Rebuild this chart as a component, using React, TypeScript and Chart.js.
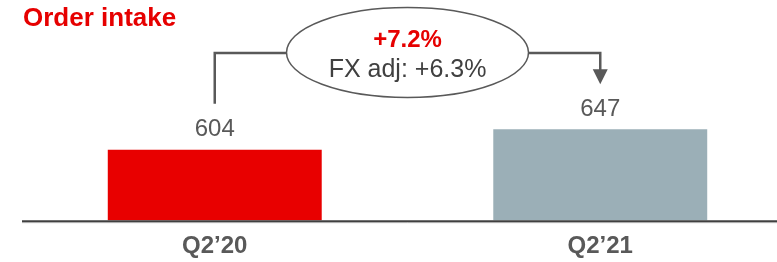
import React, { useEffect, useRef } from "react";
import { Chart, registerables } from "chart.js";

Chart.register(...registerables);

const categories = ["Q2’20", "Q2’21"];
const orderIntake = [604, 647];
const barColors = ["#E80000", "#9BAFB7"];
const changeMain = "+7.2%";
const changeFx = "FX adj: +6.3%";
const titleText = "Order intake";

const FONT = "'Liberation Sans', Arial, Helvetica, sans-serif";

const overlayPlugin = {
  id: "overlay",
  afterDatasetsDraw(chart: any) {
    const ctx = chart.ctx as CanvasRenderingContext2D;
    const meta = chart.getDatasetMeta(0);
    const bars = meta.data as any[];
    const area = chart.chartArea;
    ctx.save();

    // axis line
    ctx.strokeStyle = "#C8C8C8";
    ctx.lineWidth = 1;
    ctx.beginPath();
    ctx.moveTo(area.left, area.bottom + 2.5);
    ctx.lineTo(chart.width, area.bottom + 2.5);
    ctx.stroke();
    ctx.strokeStyle = "#404040";
    ctx.lineWidth = 2;
    ctx.beginPath();
    ctx.moveTo(area.left, area.bottom + 1);
    ctx.lineTo(chart.width, area.bottom + 1);
    ctx.stroke();

    // title
    ctx.fillStyle = "#E60000";
    ctx.font = `bold 26px ${FONT}`;
    ctx.textAlign = "left";
    ctx.textBaseline = "middle";
    ctx.fillText(titleText, 23, 19);

    // value labels
    ctx.fillStyle = "#595959";
    ctx.font = `24px ${FONT}`;
    ctx.textAlign = "center";
    bars.forEach((b, i) => {
      ctx.fillText(String(orderIntake[i]), b.x, b.y - 20);
    });

    // bracket
    const x1 = bars[0].x;
    const x2 = bars[1].x;
    const yLine = 53;
    const cx = (x1 + x2) / 2;
    const cy = 52.5;
    const rx = 121;
    const ry = 45;
    ctx.strokeStyle = "#595959";
    ctx.lineWidth = 2.5;
    const arrowTip = bars[1].y - 45;
    const arrowH = 15;
    ctx.beginPath();
    ctx.moveTo(x1, bars[0].y - 46);
    ctx.lineTo(x1, yLine);
    ctx.lineTo(x2, yLine);
    ctx.lineTo(x2, arrowTip - arrowH + 1);
    ctx.stroke();
    ctx.fillStyle = "#595959";
    ctx.beginPath();
    ctx.moveTo(x2 - 7.5, arrowTip - arrowH);
    ctx.lineTo(x2 + 7.5, arrowTip - arrowH);
    ctx.lineTo(x2, arrowTip);
    ctx.closePath();
    ctx.fill();

    // ellipse
    ctx.beginPath();
    ctx.ellipse(cx, cy, rx, ry, 0, 0, Math.PI * 2);
    ctx.fillStyle = "#FFFFFF";
    ctx.fill();
    ctx.lineWidth = 1.5;
    ctx.strokeStyle = "#595959";
    ctx.stroke();

    ctx.textAlign = "center";
    ctx.textBaseline = "middle";
    ctx.fillStyle = "#E60000";
    ctx.font = `bold 24px ${FONT}`;
    ctx.fillText(changeMain, cx, 40);
    ctx.fillStyle = "#404040";
    ctx.font = `25px ${FONT}`;
    ctx.fillText(changeFx, cx, 70);

    ctx.restore();
  },
};

export default function App() {
  const ref = useRef<HTMLCanvasElement | null>(null);
  useEffect(() => {
    if (!ref.current) return;
    const chart = new Chart(ref.current, {
      type: "bar",
      data: {
        labels: categories,
        datasets: [
          {
            data: orderIntake,
            backgroundColor: barColors,
            borderWidth: 0,
            categoryPercentage: 1,
            barPercentage: 0.555,
          },
        ],
      },
      options: {
        responsive: false,
        maintainAspectRatio: false,
        animation: false,
        layout: { padding: { left: 22, right: 0, top: 0, bottom: 2 } },
        plugins: { legend: { display: false }, tooltip: { enabled: false }, title: { display: false } },
        scales: {
          x: {
            grid: { display: false, drawTicks: false },
            border: { display: false },
            ticks: {
              color: "#595959",
              font: { family: FONT, size: 24, weight: "bold" },
              padding: 12,
            },
          },
          y: { display: false, min: 458, max: 915 },
        },
      },
      plugins: [overlayPlugin],
    });
    return () => chart.destroy();
  }, []);
  return (
    <div style={{ position: "absolute", left: 0, top: 0, width: 777, height: 262, overflow: "hidden", background: "#fff" }}>
      <canvas ref={ref} width={793} height={275} style={{ display: "block" }} />
    </div>
  );
}
